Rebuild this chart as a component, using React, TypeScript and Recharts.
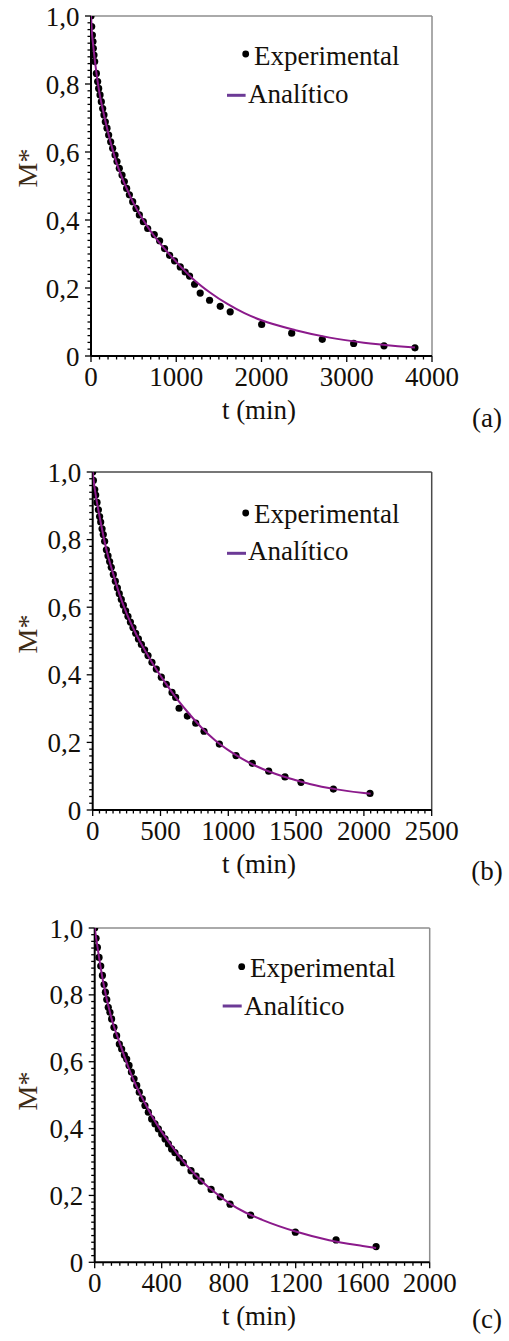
import React from 'react';
import { ComposedChart, Line, Scatter, XAxis, YAxis, ReferenceLine, Legend } from 'recharts';

// ---------- shared text ----------
const SERIES_NAMES = ['Experimental', 'Analítico'];
const X_TITLE = 't (min)';
const Y_TITLE = 'M*';
const PANEL_LABELS = ['(a)', '(b)', '(c)'];
const Y_MAJOR = [0, 0.2, 0.4, 0.6, 0.8, 1.0];
const Y_MAJOR_LABELS = ['0', '0,2', '0,4', '0,6', '0,8', '1,0'];

// ---------- panel (a) ----------
const A_X_MAJOR = [0, 1000, 2000, 3000, 4000];
const A_EXP_T = [0, 8, 16, 23, 27, 35, 43, 63, 78, 90, 106, 121, 137, 152, 168, 188, 207, 231, 254, 282, 305, 332, 364, 391, 418, 450, 489, 528, 567, 614, 665, 742, 805, 863, 922, 980, 1047, 1105, 1156, 1215, 1281, 1391, 1516, 1633, 2002, 2354, 2713, 3081, 3437, 3800];
const A_EXP_M = [1.0, 0.969, 0.944, 0.925, 0.905, 0.885, 0.866, 0.831, 0.807, 0.787, 0.768, 0.748, 0.728, 0.709, 0.689, 0.670, 0.650, 0.630, 0.611, 0.591, 0.572, 0.552, 0.532, 0.513, 0.493, 0.474, 0.454, 0.434, 0.415, 0.395, 0.375, 0.357, 0.339, 0.316, 0.296, 0.28, 0.262, 0.247, 0.235, 0.211, 0.185, 0.164, 0.146, 0.130, 0.093, 0.067, 0.049, 0.037, 0.030, 0.024];
const A_FIT_T = [0, 10, 25, 50, 100, 150, 200, 300, 400, 500, 600, 700, 800, 1000, 1200, 1400, 1600, 1800, 2000, 2400, 2800, 3200, 3600, 3800];
const A_FIT_M = [1.0, 0.955, 0.915, 0.86, 0.772, 0.712, 0.658, 0.568, 0.503, 0.449, 0.405, 0.367, 0.334, 0.277, 0.226, 0.186, 0.153, 0.126, 0.105, 0.076, 0.054, 0.039, 0.029, 0.025];

// ---------- panel (b) ----------
const B_X_MAJOR = [0, 500, 1000, 1500, 2000, 2500];
const B_EXP_T = [0, 5, 15, 22, 32, 42, 51, 59, 69, 78, 88, 101, 113, 125, 137, 152, 167, 182, 196, 211, 226, 243, 260, 278, 297, 317, 337, 359, 383, 408, 437, 469, 506, 543, 585, 612, 637, 698, 760, 821, 934, 1057, 1177, 1298, 1418, 1536, 1775, 2045];
const B_EXP_M = [1.0, 0.975, 0.948, 0.932, 0.91, 0.888, 0.868, 0.852, 0.832, 0.815, 0.795, 0.77, 0.752, 0.735, 0.718, 0.697, 0.677, 0.657, 0.64, 0.623, 0.606, 0.589, 0.573, 0.556, 0.54, 0.523, 0.506, 0.49, 0.474, 0.457, 0.437, 0.417, 0.393, 0.372, 0.348, 0.333, 0.301, 0.278, 0.257, 0.233, 0.195, 0.161, 0.138, 0.115, 0.098, 0.082, 0.062, 0.049];
const B_FIT_T = [0, 10, 25, 50, 100, 150, 200, 250, 300, 350, 400, 450, 500, 550, 600, 700, 800, 900, 1000, 1100, 1200, 1300, 1400, 1500, 1600, 1800, 2000, 2050];
const B_FIT_M = [1.0, 0.965, 0.925, 0.87, 0.772, 0.70, 0.635, 0.582, 0.537, 0.497, 0.462, 0.428, 0.397, 0.368, 0.34, 0.29, 0.245, 0.207, 0.177, 0.152, 0.131, 0.114, 0.100, 0.088, 0.077, 0.061, 0.050, 0.048];

// ---------- panel (c) ----------
const C_X_MAJOR = [0, 400, 800, 1200, 1600, 2000];
const C_EXP_T = [0, 8, 16, 26, 36, 46, 56, 64, 72, 81, 91, 101, 115, 131, 147, 161, 177, 191, 205, 219, 235, 251, 266, 284, 300, 320, 340, 360, 380, 400, 420, 440, 459, 479, 505, 529, 575, 605, 635, 695, 750, 808, 931, 1198, 1441, 1680];
const C_EXP_M = [1.0, 0.969, 0.942, 0.912, 0.886, 0.858, 0.831, 0.808, 0.786, 0.763, 0.748, 0.728, 0.703, 0.678, 0.653, 0.638, 0.620, 0.608, 0.589, 0.569, 0.549, 0.529, 0.509, 0.489, 0.469, 0.449, 0.429, 0.414, 0.399, 0.384, 0.369, 0.354, 0.339, 0.328, 0.312, 0.298, 0.274, 0.258, 0.243, 0.218, 0.196, 0.174, 0.141, 0.090, 0.067, 0.047];
const C_FIT_T = [0, 10, 25, 50, 100, 150, 200, 250, 300, 350, 400, 450, 500, 600, 700, 800, 900, 1000, 1200, 1400, 1600, 1680];
const C_FIT_M = [1.0, 0.965, 0.915, 0.84, 0.73, 0.655, 0.585, 0.525, 0.476, 0.43, 0.39, 0.355, 0.32, 0.262, 0.216, 0.178, 0.149, 0.127, 0.092, 0.066, 0.049, 0.043];

const FONT = "'Liberation Serif', 'Times New Roman', serif";
const TEXT_COLOR = '#14100a';
const TITLE_COLOR = '#3e2c17';
const CURVE_COLOR = '#8b1a8b';
const LEGEND_LINE_COLOR = '#6c3a96';
const FS = 27;
const DOT_R = 3.6;

const makeSteps = (max: number, step: number) => {
  const out: number[] = [];
  const n = Math.round(max / step);
  for (let i = 0; i <= n; i++) out.push(Math.round(i * step * 1000) / 1000);
  return out;
};

const PANELS = [
  {
    label: PANEL_LABELS[0], top: 0, height: 445, plotTop: 16, plotBottom: 356, plotLeft: 91, plotRight: 432,
    xMax: 4000, xMajor: A_X_MAJOR, xMinor: 100, expT: A_EXP_T, expM: A_EXP_M, fitT: A_FIT_T, fitM: A_FIT_M,
    border: '#8e8e8e', lg: { dotX: 245.7, dotY: 38, t1X: 254, t1Y: 48.5, l0: 227, l1: 245.6, lineY: 79.3, t2X: 248, t2Y: 87 },
    yTitleY: 168, panelLabelY: 427,
  },
  {
    label: PANEL_LABELS[1], top: 450, height: 445, plotTop: 472, plotBottom: 810, plotLeft: 92.7, plotRight: 431.7,
    xMax: 2500, xMajor: B_X_MAJOR, xMinor: 50, expT: B_EXP_T, expM: B_EXP_M, fitT: B_FIT_T, fitM: B_FIT_M,
    border: '#4a4a4a', lg: { dotX: 245.7, dotY: 41, t1X: 254, t1Y: 51, l0: 227, l1: 246, lineY: 81.3, t2X: 248, t2Y: 88 },
    yTitleY: 634, panelLabelY: 880,
  },
  {
    label: PANEL_LABELS[2], top: 900, height: 441, plotTop: 928, plotBottom: 1262.3, plotLeft: 94.7, plotRight: 429.7,
    xMax: 2000, xMajor: C_X_MAJOR, xMinor: 50, expT: C_EXP_T, expM: C_EXP_M, fitT: C_FIT_T, fitM: C_FIT_M,
    border: '#8e8e8e', lg: { dotX: 241.7, dotY: 38.7, t1X: 250, t1Y: 49, l0: 222.7, l1: 241.7, lineY: 78, t2X: 244, t2Y: 87 },
    yTitleY: 1091, panelLabelY: 1328,
  },
];

const Y_ALL = makeSteps(1, 0.02);

function Panel({ cfg }: { cfg: any }) {
  const exp = cfg.expT.map((t: number, i: number) => ({ t, m: cfg.expM[i] }));
  const fit = cfg.fitT.map((t: number, i: number) => ({ t, m: cfg.fitM[i] }));
  const xAll = makeSteps(cfg.xMax, cfg.xMinor);
  const marginTop = cfg.plotTop - cfg.top;
  const xAxisHeight = cfg.top + cfg.height - cfg.plotBottom;
  const marginRight = 509 - cfg.plotRight;
  const localBottom = cfg.plotBottom - cfg.top;

  const renderXTick = (p: any) => {
    const v = p.payload.value;
    const major = cfg.xMajor.some((m: number) => Math.abs(m - v) < 1e-6);
    return (
      <g>
        <line x1={p.x} x2={p.x} y1={p.y} y2={p.y + (major ? 6 : 3.5)} stroke="#000" strokeWidth={1.3} />
        {major && (
          <text x={p.x} y={p.y + 30} textAnchor="middle" fontSize={FS} fontFamily={FONT} fill={TEXT_COLOR}>{v}</text>
        )}
      </g>
    );
  };
  const renderYTick = (p: any) => {
    const v = p.payload.value;
    const idx = Y_MAJOR.findIndex((m) => Math.abs(m - v) < 1e-6);
    const major = idx >= 0;
    return (
      <g>
        <line x1={p.x} x2={p.x - (major ? 6 : 3.5)} y1={p.y} y2={p.y} stroke="#000" strokeWidth={1.3} />
        {major && (
          <text x={p.x - 11.5} y={p.y + 9.5} textAnchor="end" fontSize={FS} fontFamily={FONT} fill={TEXT_COLOR}>{Y_MAJOR_LABELS[idx]}</text>
        )}
      </g>
    );
  };
  const xTitle = () => (
    <g>
      <text x={259} y={localBottom + 63} textAnchor="middle" fontSize={FS} fontFamily={FONT} fill={TEXT_COLOR}>{X_TITLE}</text>
      <text x={487} y={cfg.panelLabelY - cfg.top} textAnchor="middle" fontSize={FS} fontFamily={FONT} fill={TEXT_COLOR}>{cfg.label}</text>
    </g>
  );
  const yTitle = () => {
    const cy = cfg.yTitleY - cfg.top;
    return (
      <text x={37} y={cy} transform={`rotate(-90 37 ${cy})`} textAnchor="middle" fontSize={28} fontFamily={FONT} fill={TITLE_COLOR}>{Y_TITLE}</text>
    );
  };
  const lg = cfg.lg;
  const legendContent = () => (
    <svg width={230} height={100} style={{ display: 'block', overflow: 'visible' }}>
      <circle cx={lg.dotX - 200} cy={lg.dotY} r={3.4} fill="#000" />
      <text x={lg.t1X - 200} y={lg.t1Y} fontSize={FS} fontFamily={FONT} fill={TEXT_COLOR}>{SERIES_NAMES[0]}</text>
      <line x1={lg.l0 - 200} x2={lg.l1 - 200} y1={lg.lineY} y2={lg.lineY} stroke={LEGEND_LINE_COLOR} strokeWidth={3} />
      <text x={lg.t2X - 200} y={lg.t2Y} fontSize={FS} fontFamily={FONT} fill={TEXT_COLOR}>{SERIES_NAMES[1]}</text>
    </svg>
  );

  return (
    <div style={{ position: 'absolute', left: 0, top: cfg.top, width: 509, height: cfg.height }}>
      <div style={{ position: 'absolute', left: 0, top: 0 }}>
        <ComposedChart width={509} height={cfg.height} margin={{ top: marginTop, right: marginRight, bottom: 0, left: 0 }}>
          <XAxis
            type="number" dataKey="t" domain={[0, cfg.xMax]} ticks={xAll} interval={0}
            tickSize={0} tickMargin={0} tickLine={false} tick={renderXTick}
            height={xAxisHeight} axisLine={{ stroke: '#000', strokeWidth: 2 }} allowDataOverflow
            label={xTitle}
          />
          <YAxis
            type="number" dataKey="m" domain={[0, 1]} ticks={Y_ALL} interval={0}
            tickSize={0} tickMargin={0} tickLine={false} tick={renderYTick}
            width={cfg.plotLeft} axisLine={{ stroke: '#000', strokeWidth: 2 }} allowDataOverflow
            label={yTitle}
          />
          <ReferenceLine y={1} stroke={cfg.border} strokeWidth={1.5} />
          <ReferenceLine x={cfg.xMax} stroke={cfg.border} strokeWidth={1.5} />
          <Scatter data={exp} dataKey="m" name={SERIES_NAMES[0]} fill="#000" isAnimationActive={false}
            shape={(p: any) => <circle cx={p.cx} cy={p.cy} r={DOT_R} fill="#000" />} />
          <Legend layout="horizontal" verticalAlign="middle" align="center" content={legendContent}
            wrapperStyle={{ position: 'absolute', left: 200, top: marginTop, width: 230, height: 100 }} />
        </ComposedChart>
      </div>
      {/* overlay: analytic curve drawn above the experimental points, same plot box and scales */}
      <div style={{ position: 'absolute', left: 0, top: 0, pointerEvents: 'none' }}>
        <ComposedChart width={509} height={cfg.height} margin={{ top: marginTop, right: marginRight, bottom: xAxisHeight, left: cfg.plotLeft }}>
          <XAxis type="number" dataKey="t" domain={[0, cfg.xMax]} hide allowDataOverflow />
          <YAxis type="number" dataKey="m" domain={[0, 1]} hide allowDataOverflow />
          <Line data={fit} dataKey="m" name={SERIES_NAMES[1]} type="monotone" stroke={CURVE_COLOR} strokeWidth={2} dot={false} isAnimationActive={false} />
        </ComposedChart>
      </div>
    </div>
  );
}

export default function App() {
  return (
    <div style={{ position: 'absolute', left: 0, top: 0, width: 509, height: 1341, background: '#fff' }}>
      {PANELS.map((cfg) => (
        <Panel key={cfg.label} cfg={cfg} />
      ))}
    </div>
  );
}
